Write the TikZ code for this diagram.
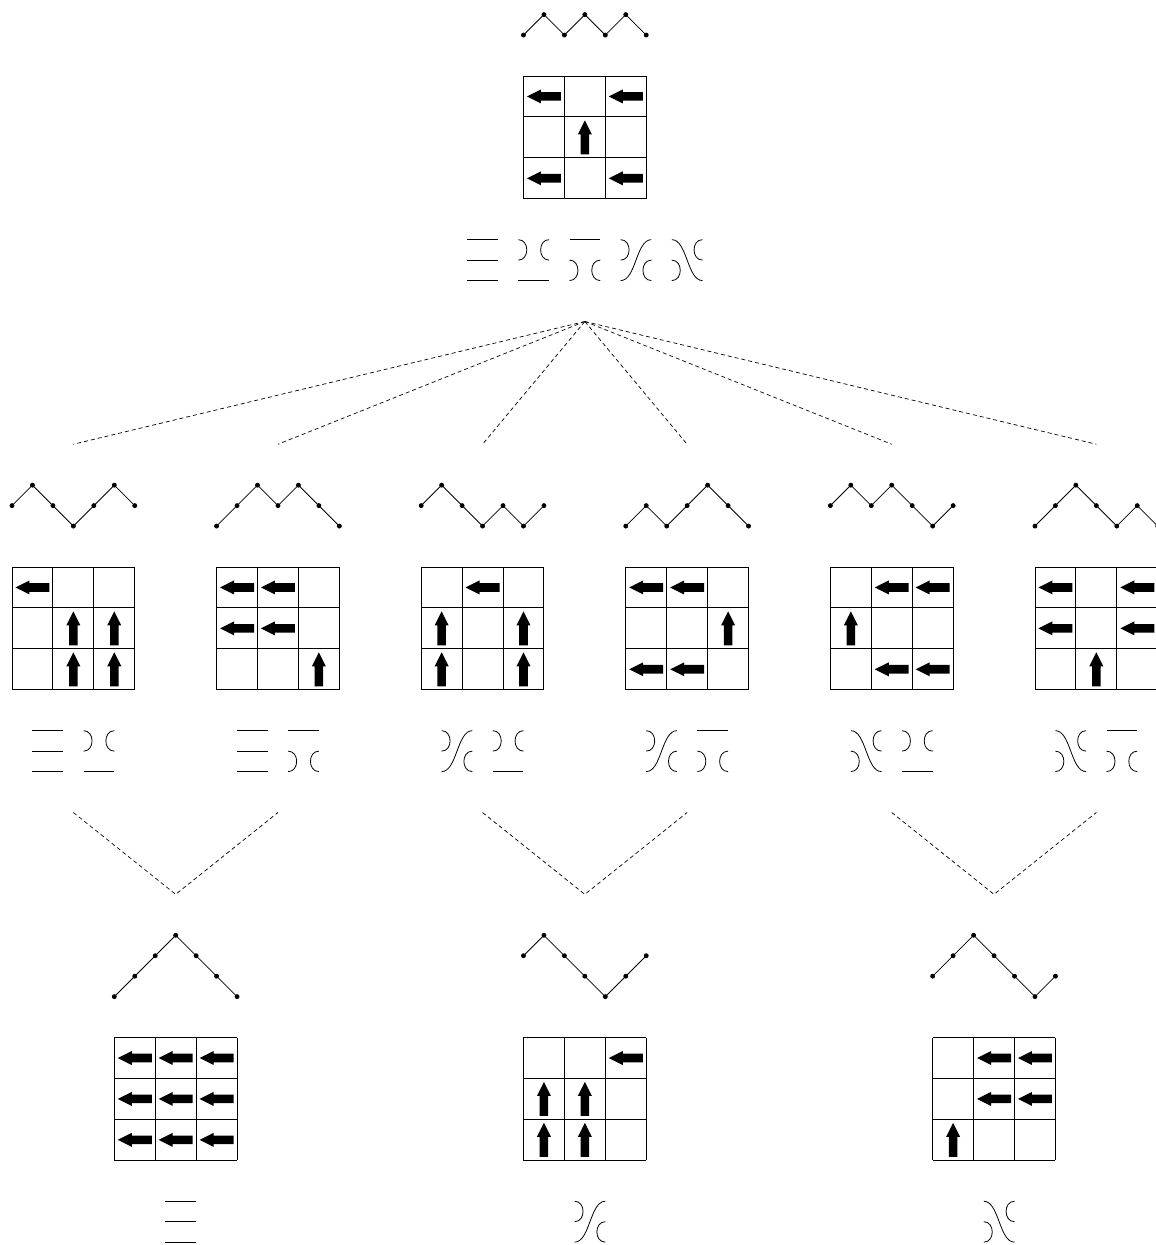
\documentclass[tikz,border=0pt]{standalone}
\usepackage{tikz}

\tikzset{
  walk/.style={line width=0.8pt, mark=*, mark size=2pt},
  gridline/.style={line width=0.9pt},
  strand/.style={line width=0.8pt},
  tree/.style={line width=0.7pt, dash pattern=on 4pt off 3pt},
  board/.pic={\foreach \t in {0,2,4,6} \draw[gridline] (\t,0) -- (\t,6) (0,\t) -- (6,\t);},
  larr/.pic={\fill (-17pt,0pt) -- (-3pt,7pt) -- (-3pt,4.3pt) -- (17pt,4.3pt) -- (17pt,-4.3pt) -- (-3pt,-4.3pt) -- (-3pt,-7pt) -- cycle;},
  uarr/.pic={\fill[rotate=-90] (-17pt,0pt) -- (-3pt,7pt) -- (-3pt,4.3pt) -- (17pt,4.3pt) -- (17pt,-4.3pt) -- (-3pt,-4.3pt) -- (-3pt,-7pt) -- cycle;},
  tlid/.pic={\draw[strand] (0,0) -- (1.5,0) (0,1) -- (1.5,1) (0,2) -- (1.5,2);},
  tlea/.pic={\draw[strand] (0,0) .. controls (0.55,0) and (0.55,1) .. (0,1);
    \draw[strand] (1.5,0) .. controls (0.95,0) and (0.95,1) .. (1.5,1);
    \draw[strand] (0,2) -- (1.5,2);},
  tleb/.pic={\draw[strand] (0,0) -- (1.5,0);
    \draw[strand] (0,1) .. controls (0.55,1) and (0.55,2) .. (0,2);
    \draw[strand] (1.5,1) .. controls (0.95,1) and (0.95,2) .. (1.5,2);},
  tleab/.pic={\draw[strand] (0,0) .. controls (0.55,0) and (0.55,1) .. (0,1);
    \draw[strand] (0,2) .. controls (0.75,2) and (0.75,0) .. (1.5,0);
    \draw[strand] (1.5,1) .. controls (0.95,1) and (0.95,2) .. (1.5,2);},
  tleba/.pic={\draw[strand] (0,1) .. controls (0.55,1) and (0.55,2) .. (0,2);
    \draw[strand] (0,0) .. controls (0.75,0) and (0.75,2) .. (1.5,2);
    \draw[strand] (1.5,0) .. controls (0.95,0) and (0.95,1) .. (1.5,1);}
}

\begin{document}
\begin{tikzpicture}[x=20.46pt, y=-20.46pt]
    \useasboundingbox (-0.587,-3.714) rectangle (55.91,57.14);
    \clip (-0.587,-3.714) rectangle (55.91,57.14);

    \begin{scope}[shift={(25,0)}]
        \draw[walk] plot coordinates {(0,-2) (1,-3) (2,-2) (3,-3) (4,-2) (5,-3) (6,-2)};
        \pic at (0,0) {board};
        \foreach \x/\y in {0/0,2/0,0/2,2/2} \pic at (2*\x+1,2*\y+1) {larr};
        \pic at (3,3) {uarr};
        \pic at (-2.75,8) {tlid};
        \pic at (-0.25,8) {tlea};
        \pic at (2.25,8) {tleb};
        \pic at (4.75,8) {tleab};
        \pic at (7.25,8) {tleba};
    \end{scope}

    \begin{scope}[shift={(0,24)}]
        \draw[walk] plot coordinates {(0,-3) (1,-4) (2,-3) (3,-2) (4,-3) (5,-4) (6,-3)};
        \pic at (0,0) {board};
        \pic at (1,1) {larr};
        \foreach \x/\y in {1/1,2/1,1/2,2/2} \pic at (2*\x+1,2*\y+1) {uarr};
        \pic at (1,8) {tlid};
        \pic at (3.5,8) {tlea};
    \end{scope}

    \begin{scope}[shift={(10,24)}]
        \draw[walk] plot coordinates {(0,-2) (1,-3) (2,-4) (3,-3) (4,-4) (5,-3) (6,-2)};
        \pic at (0,0) {board};
        \foreach \x/\y in {0/0,1/0,0/1,1/1} \pic at (2*\x+1,2*\y+1) {larr};
        \pic at (5,5) {uarr};
        \pic at (1,8) {tlid};
        \pic at (3.5,8) {tleb};
    \end{scope}

    \begin{scope}[shift={(20,24)}]
        \draw[walk] plot coordinates {(0,-3) (1,-4) (2,-3) (3,-2) (4,-3) (5,-2) (6,-3)};
        \pic at (0,0) {board};
        \pic at (3,1) {larr};
        \foreach \x/\y in {0/1,2/1,0/2,2/2} \pic at (2*\x+1,2*\y+1) {uarr};
        \pic at (1,8) {tleab};
        \pic at (3.5,8) {tlea};
    \end{scope}

    \begin{scope}[shift={(30,24)}]
        \draw[walk] plot coordinates {(0,-2) (1,-3) (2,-2) (3,-3) (4,-4) (5,-3) (6,-2)};
        \pic at (0,0) {board};
        \foreach \x/\y in {0/0,1/0,0/2,1/2} \pic at (2*\x+1,2*\y+1) {larr};
        \pic at (5,3) {uarr};
        \pic at (1,8) {tleab};
        \pic at (3.5,8) {tleb};
    \end{scope}

    \begin{scope}[shift={(40,24)}]
        \draw[walk] plot coordinates {(0,-3) (1,-4) (2,-3) (3,-4) (4,-3) (5,-2) (6,-3)};
        \pic at (0,0) {board};
        \foreach \x/\y in {1/0,2/0,1/2,2/2} \pic at (2*\x+1,2*\y+1) {larr};
        \pic at (1,3) {uarr};
        \pic at (1,8) {tleba};
        \pic at (3.5,8) {tlea};
    \end{scope}

    \begin{scope}[shift={(50,24)}]
        \draw[walk] plot coordinates {(0,-2) (1,-3) (2,-4) (3,-3) (4,-2) (5,-3) (6,-2)};
        \pic at (0,0) {board};
        \foreach \x/\y in {0/0,2/0,0/1,2/1} \pic at (2*\x+1,2*\y+1) {larr};
        \pic at (3,5) {uarr};
        \pic at (1,8) {tleba};
        \pic at (3.5,8) {tleb};
    \end{scope}

    \begin{scope}[shift={(5,47)}]
        \draw[walk] plot coordinates {(0,-2) (1,-3) (2,-4) (3,-5) (4,-4) (5,-3) (6,-2)};
        \pic at (0,0) {board};
        \foreach \x in {0,1,2} \foreach \y in {0,1,2} \pic at (2*\x+1,2*\y+1) {larr};
        \pic at (2.5,8) {tlid};
    \end{scope}

    \begin{scope}[shift={(25,47)}]
        \draw[walk] plot coordinates {(0,-4) (1,-5) (2,-4) (3,-3) (4,-2) (5,-3) (6,-4)};
        \pic at (0,0) {board};
        \pic at (5,1) {larr};
        \foreach \x/\y in {0/1,1/1,0/2,1/2} \pic at (2*\x+1,2*\y+1) {uarr};
        \pic at (2.5,8) {tleab};
    \end{scope}

    \begin{scope}[shift={(45,47)}]
        \draw[walk] plot coordinates {(0,-3) (1,-4) (2,-5) (3,-4) (4,-3) (5,-2) (6,-3)};
        \pic at (0,0) {board};
        \foreach \x/\y in {1/0,2/0,1/1,2/1} \pic at (2*\x+1,2*\y+1) {larr};
        \pic at (1,5) {uarr};
        \pic at (2.5,8) {tleba};
    \end{scope}

    \coordinate (root) at (28,12);
    \foreach \k in {0,...,5} {
        \coordinate (mid\k) at (10*\k+3,18);
        \coordinate (low\k) at (10*\k+3,36);
    }
    \foreach \k in {0,1,2} \coordinate (leaf\k) at (20*\k+8,40);

    \foreach \k in {0,...,5} \draw[tree] (root) -- (mid\k);
    \draw[tree] (low0) -- (leaf0) -- (low1);
    \draw[tree] (low2) -- (leaf1) -- (low3);
    \draw[tree] (low4) -- (leaf2) -- (low5);
\end{tikzpicture}
\end{document}
